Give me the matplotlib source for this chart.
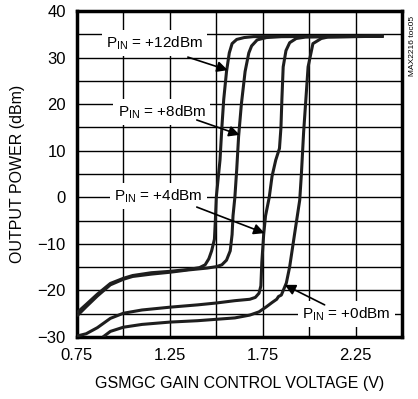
import matplotlib
matplotlib.use("Agg")
from matplotlib import pyplot as plt

plt.rcParams['font.family'] = ['Liberation Sans', 'DejaVu Sans']
plt.rcParams['mathtext.fontset'] = 'custom'
plt.rcParams['mathtext.rm'] = 'Liberation Sans'

# curves: gain control voltage (V) vs output power (dBm)
v_12 = [0.75, 0.80, 0.86, 0.93, 1.00, 1.05, 1.15, 1.25, 1.35, 1.41, 1.44, 1.46, 1.475, 1.49,
        1.495, 1.50, 1.51, 1.52, 1.53, 1.54, 1.555, 1.57, 1.585, 1.61, 1.65, 1.70, 2.40]
p_12 = [-24.8, -23.0, -20.8, -18.5, -17.4, -16.8, -16.2, -15.9, -15.5, -15.1, -14.5, -13.2, -11.5, -9,
        -5, 0, 4, 8, 15, 21, 27, 31, 33, 33.9, 34.3, 34.5, 34.6]

v_8 = [0.75, 0.80, 0.86, 0.93, 1.00, 1.05, 1.15, 1.25, 1.35, 1.45, 1.50, 1.53, 1.555, 1.575,
       1.585, 1.59, 1.60, 1.61, 1.62, 1.635, 1.655, 1.675, 1.69, 1.72, 1.77, 1.85, 2.40]
p_8 = [-25.5, -23.5, -21.2, -18.8, -17.6, -17.0, -16.5, -16.1, -15.6, -15.2, -14.9, -14.5, -13.5, -11.5,
       -8, -4, 0, 6, 13, 20, 27, 31, 32.5, 33.8, 34.3, 34.5, 34.6]

v_4 = [0.75, 0.80, 0.86, 0.93, 1.00, 1.10, 1.25, 1.40, 1.50, 1.60, 1.68, 1.71, 1.73, 1.74,
       1.745, 1.755, 1.765, 1.785, 1.80, 1.82, 1.84, 1.848, 1.853, 1.86, 1.875, 1.895, 1.93, 1.98, 2.40]
p_4 = [-29.8, -29.3, -28.0, -26.0, -24.9, -24.2, -23.6, -23.1, -22.7, -22.2, -21.9, -21.5, -20.6, -19,
       -14, -8, -4, 0, 4.5, 8, 10.5, 15, 21, 28, 31.5, 33.2, 34.1, 34.4, 34.6]

v_0 = [0.89, 0.93, 1.00, 1.10, 1.25, 1.40, 1.50, 1.60, 1.68, 1.73, 1.77, 1.80, 1.825, 1.835,
       1.85, 1.877, 1.895, 1.922, 1.949, 1.958, 1.97, 1.982, 1.994, 2.02, 2.065, 2.10, 2.40]
p_0 = [-30.0, -28.8, -27.9, -27.3, -26.8, -26.5, -26.2, -25.9, -25.3, -24.6, -23.5, -22.6, -21.9, -21.3,
       -21.0, -18.4, -14.9, -7.7, -0.6, 5, 14, 21, 28, 33, 34.1, 34.4, 34.6]

labels = [r'P$_{\mathrm{IN}}$ = +12dBm', r'P$_{\mathrm{IN}}$ = +8dBm',
          r'P$_{\mathrm{IN}}$ = +4dBm', r'P$_{\mathrm{IN}}$ = +0dBm']
label_pos = [(1.169, 33.1), (1.207, 18.3), (1.19, 0.3), (2.20, -25.1)]
arrow_tail = [(1.347, 30.1), (1.395, 16.6), (1.395, -2.1), (2.083, -23.1)]
arrow_tip = [(1.562, 27.3), (1.626, 13.4), (1.76, -7.7), (1.868, -18.8)]

x_ticks = [0.75, 1.25, 1.75, 2.25]
y_ticks = [-30, -20, -10, 0, 10, 20, 30, 40]

fig = plt.figure(figsize=(4.18, 3.99), dpi=100)
ax = fig.add_axes([0.184, 0.1554, 0.778, 0.817])

for v, p in [(v_12, p_12), (v_8, p_8), (v_4, p_4), (v_0, p_0)]:
    ax.plot(v, p, color='#1e1e1e', lw=2.2, solid_capstyle='butt', zorder=3)

ax.set_xlim(0.75, 2.5)
ax.set_ylim(-30, 40)
ax.set_xticks(x_ticks)
ax.set_xticks([0.75 + 0.25 * i for i in range(8)], minor=True)
ax.set_yticks(y_ticks)
ax.set_yticks(list(range(-30, 41, 5)), minor=True)
ax.grid(True, which='both', color='black', lw=1.0, zorder=1)
ax.tick_params(which='both', length=0, labelsize=12, pad=8)
for s in ax.spines.values():
    s.set_linewidth(2.5)

ax.set_xlabel('GSMGC GAIN CONTROL VOLTAGE (V)', fontsize=11.5, labelpad=9)
ax.set_ylabel('OUTPUT POWER (dBm)', fontsize=11.5, labelpad=9)

for lab, pos, tail, tip in zip(labels, label_pos, arrow_tail, arrow_tip):
    ax.text(pos[0], pos[1], lab, fontsize=11, ha='center', va='center', zorder=4,
            bbox=dict(facecolor='white', edgecolor='none', pad=3))
    ax.annotate('', xy=tip, xytext=tail, zorder=5,
                arrowprops=dict(arrowstyle='-|>', color='black', lw=1.2,
                                mutation_scale=16, shrinkA=0, shrinkB=0))

fig.text(0.986, 0.885, 'MAX2216 toc05', rotation=90, fontsize=6, ha='center', va='center')

fig.savefig('out.png', dpi=100)
